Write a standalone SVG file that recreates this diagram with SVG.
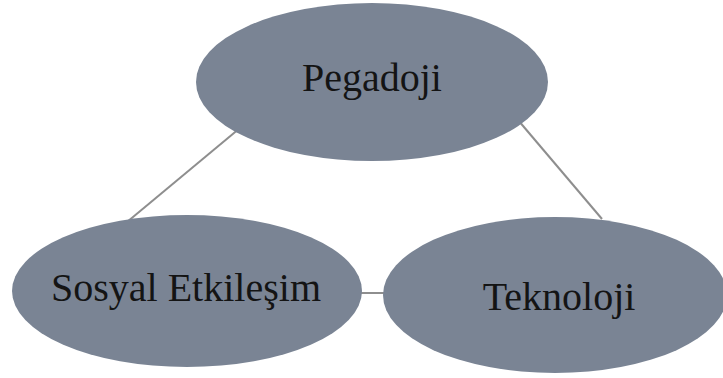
<svg xmlns="http://www.w3.org/2000/svg" width="723" height="378" viewBox="0 0 723 378">
<style>
.node{fill:#7a8494;}
.lbl{font-family:"Liberation Serif","Times New Roman",serif;font-size:40px;fill:#141414;text-anchor:middle;}
.conn{stroke:#8e8e8e;stroke-width:2;fill:none;}
</style>
<rect width="723" height="378" fill="#ffffff"/>
<g id="connectors">
<line class="conn" x1="240" y1="128" x2="127" y2="222"/>
<line class="conn" x1="518" y1="120" x2="602" y2="219"/>
<line class="conn" x1="360" y1="293" x2="386" y2="293"/>
</g>
<g id="pegadoji">
<ellipse class="node" cx="372" cy="82" rx="176" ry="79"/>
<text class="lbl" x="372" y="91">Pegadoji</text>
</g>
<g id="sosyal">
<ellipse class="node" cx="187" cy="291" rx="175" ry="76"/>
<text class="lbl" x="186" y="301">Sosyal Etkileşim</text>
</g>
<g id="teknoloji">
<ellipse class="node" cx="555" cy="295" rx="172" ry="78"/>
<text class="lbl" x="559" y="310">Teknoloji</text>
</g>
</svg>
